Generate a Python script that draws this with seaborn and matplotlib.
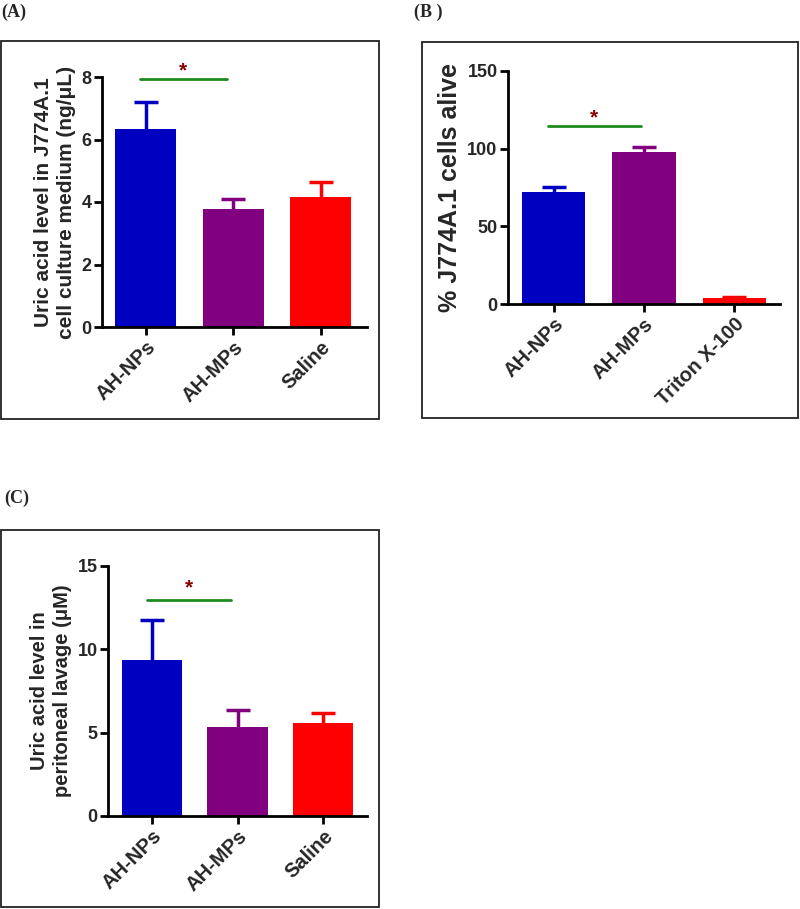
import matplotlib
matplotlib.use("Agg")
import matplotlib.pyplot as plt
import seaborn as sns
import pandas as pd
from matplotlib.patches import Rectangle
from matplotlib import font_manager as fm

sns.set_theme(style="white")

# pick regular-width Liberation Sans Bold (avoid Narrow variants)
bold_path = None
for f in fm.fontManager.ttflist:
    fn = f.fname.lower()
    if f.name == "Liberation Sans" and "narrow" not in fn and "bold" in fn and "italic" not in fn:
        bold_path = f.fname
        break
plt.rcParams['font.family'] = ['Liberation Sans', 'DejaVu Sans']

def fp(size):
    if bold_path:
        return fm.FontProperties(fname=bold_path, size=size)
    return fm.FontProperties(family="Liberation Sans", weight="bold", size=size)

# ---- data ----
cats_a = ["AH-NPs", "AH-MPs", "Saline"]
mean_a = [6.35, 3.78, 4.15]
err_a = [0.86, 0.32, 0.48]

cats_b = ["AH-NPs", "AH-MPs", "Triton X-100"]
mean_b = [71.9, 97.6, 3.9]
err_b = [3.4, 3.2, 0.6]

cats_c = ["AH-NPs", "AH-MPs", "Saline"]
mean_c = [9.36, 5.32, 5.60]
err_c = [2.40, 1.04, 0.56]

colors = ["#0000C0", "#800080", "#FF0000"]

W, H = 800, 909
fig = plt.figure(figsize=(W / 100, H / 100), dpi=100)

def fx(px):
    return px / W

def fy(py):
    return 1 - py / H

def frame(x0, y0, x1, y1):
    fig.patches.append(Rectangle((fx(x0), fy(y1)), fx(x1 - x0), (y1 - y0) / H,
                                 transform=fig.transFigure, fill=False,
                                 edgecolor="#222222", linewidth=1.3))

def panel(rect_px, cats, means, errs, ylim, yticks, ylabel, ylsize, xlim, sig_y, star_y, sig_x):
    x0, ytop, x1, ybot = rect_px
    ax = fig.add_axes([fx(x0), fy(ybot), fx(x1 - x0), (ybot - ytop) / H])
    df = pd.DataFrame({"cat": cats, "val": means})
    sns.barplot(data=df, x="cat", y="val", hue="cat", palette=colors, legend=False,
                width=0.7, errorbar=None, ax=ax, edgecolor="none", saturation=1)
    for i, (m, e) in enumerate(zip(means, errs)):
        _, caps, _ = ax.errorbar(i, m, yerr=[[0], [e]], fmt="none", ecolor=colors[i],
                                 elinewidth=2.5, capsize=8.3, capthick=2.5, zorder=1)
        if len(caps) > 1:
            caps[0].set_visible(False)
    ax.set_ylim(*ylim)
    ax.set_xlim(*xlim)
    ax.set_yticks(yticks)
    ax.set_yticklabels([str(t) for t in yticks], fontproperties=fp(13))
    ax.set_xticks(range(len(cats)))
    ax.set_xticklabels(cats, rotation=45, ha="right", rotation_mode="anchor",
                       fontproperties=fp(14.5))
    ax.set_xlabel("")
    ax.set_ylabel(ylabel, fontproperties=fp(ylsize), labelpad=4, linespacing=1.25)
    for s in ["top", "right"]:
        ax.spines[s].set_visible(False)
    for s in ["left", "bottom"]:
        ax.spines[s].set_linewidth(2)
        ax.spines[s].set_color("black")
    ax.tick_params(axis="both", direction="out", length=5.5, width=2, color="black",
                   left=True, bottom=True, pad=2)
    ax.plot(sig_x, [sig_y, sig_y], color="#1E8B1E", linewidth=2, clip_on=False)
    ax.text(sum(sig_x) / 2, star_y, "*", color="#8B0000", ha="center", va="center",
            fontproperties=fp(15))
    ax.patch.set_alpha(0)
    return ax

# Panel A
panel((102, 77, 367, 327), cats_a, mean_a, err_a, (0, 8), [0, 2, 4, 6, 8],
      "Uric acid level in J774A.1\ncell culture medium (ng/\u03bcL)", 15,
      (-0.5, 2.53), 7.94, 8.2, [-0.07, 0.93])
# Panel B
panel((508, 70.7, 780, 304.3), cats_b, mean_b, err_b, (0, 150), [0, 50, 100, 150],
      "% J774A.1 cells alive", 18,
      (-0.51, 2.51), 114.5, 120.0, [-0.07, 0.97])
# Panel C
panel((108, 566, 367, 816), cats_c, mean_c, err_c, (0, 15), [0, 5, 10, 15],
      "Uric acid level in\nperitoneal lavage (\u03bcM)", 14.5,
      (-0.51, 2.51), 12.96, 13.7, [-0.06, 0.93])

frame(1, 41, 379, 419)
frame(422, 42, 798, 418)
frame(1, 530, 379, 907)

lab_kw = dict(fontsize=13, fontweight="bold", family=["Liberation Serif", "DejaVu Serif"],
              va="center", ha="left")
fig.text(fx(1), fy(12), "(A)", **lab_kw)
fig.text(fx(414), fy(12), "(B )", **lab_kw)
fig.text(fx(4), fy(498), "(C)", **lab_kw)

fig.savefig("out.png", dpi=100)
